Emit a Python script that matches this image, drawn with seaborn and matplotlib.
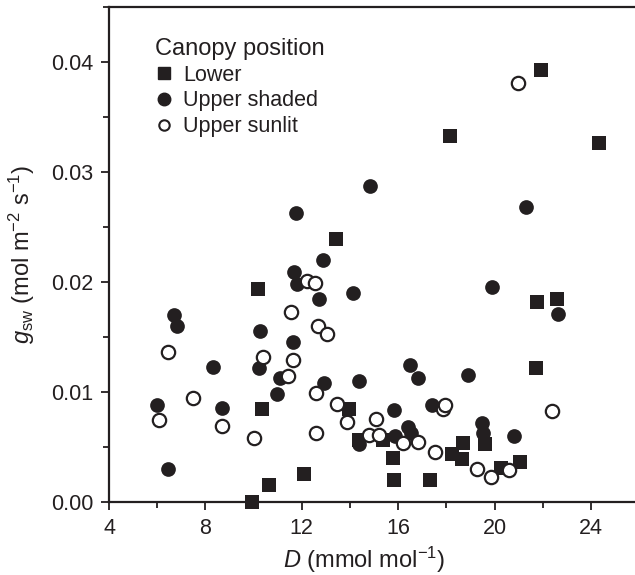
import matplotlib
matplotlib.use("Agg")
import matplotlib.pyplot as plt
import seaborn as sns
import pandas as pd
from matplotlib.ticker import MultipleLocator, FormatStrFormatter
from matplotlib.lines import Line2D

# ---- data ----
lower_D = [9.92, 10.64, 12.1, 10.33, 10.17, 13.42, 13.95, 14.39, 15.38, 15.80, 15.83, 17.32,
           18.25, 18.66, 18.70, 19.60, 20.26, 21.05, 18.17, 21.91, 24.33, 21.74, 22.57, 21.70]
lower_g = [0.0000, 0.0016, 0.0026, 0.0085, 0.0194, 0.0239, 0.0085, 0.0057, 0.0057, 0.0040, 0.0020, 0.0020,
           0.0044, 0.0039, 0.0054, 0.0053, 0.0031, 0.0037, 0.0333, 0.0393, 0.0326, 0.0182, 0.0185, 0.0122]

shaded_D = [6.00, 6.46, 6.70, 6.84, 8.33, 8.68, 10.24, 10.27, 10.96, 11.10, 11.62, 11.68, 11.76,
            11.80, 12.73, 12.87, 12.93, 14.11, 14.39, 14.39, 14.85, 15.84, 15.87, 16.39, 16.53,
            16.49, 16.81, 17.39, 18.91, 19.46, 19.53, 19.88, 20.82, 21.30, 22.64]
shaded_g = [0.0088, 0.0030, 0.0170, 0.0160, 0.0123, 0.0086, 0.0122, 0.0156, 0.0098, 0.0113, 0.0146, 0.0209, 0.0263,
            0.0198, 0.0185, 0.0220, 0.0108, 0.0190, 0.0110, 0.0053, 0.0287, 0.0084, 0.0060, 0.0068, 0.0063,
            0.0125, 0.0113, 0.0088, 0.0116, 0.0072, 0.0063, 0.0196, 0.0060, 0.0268, 0.0171]

sunlit_D = [6.06, 6.46, 7.47, 8.70, 10.03, 10.40, 11.42, 11.54, 11.62, 12.23, 12.55, 12.57, 12.58,
            12.69, 13.06, 13.47, 13.89, 14.80, 15.08, 15.22, 16.21, 16.83, 17.53, 17.87, 17.94,
            19.28, 19.86, 20.61, 20.98, 22.37]
sunlit_g = [0.0075, 0.0137, 0.0095, 0.0069, 0.0058, 0.0132, 0.0115, 0.0173, 0.0129, 0.0201, 0.0199, 0.0063, 0.0099,
            0.0160, 0.0153, 0.0089, 0.0073, 0.0061, 0.0076, 0.0061, 0.0054, 0.0055, 0.0046, 0.0085, 0.0088,
            0.0030, 0.0023, 0.0029, 0.0381, 0.0083]

groups = ["Lower", "Upper shaded", "Upper sunlit"]
x_ticks = [4, 8, 12, 16, 20, 24]
y_ticks = [0.00, 0.01, 0.02, 0.03, 0.04]

df = pd.concat([
    pd.DataFrame({"D": lower_D, "g": lower_g, "pos": groups[0]}),
    pd.DataFrame({"D": shaded_D, "g": shaded_g, "pos": groups[1]}),
    pd.DataFrame({"D": sunlit_D, "g": sunlit_g, "pos": groups[2]}),
])

sns.set_theme(style="ticks")
plt.rcParams["font.family"] = ["Liberation Sans", "DejaVu Sans"]
plt.rcParams["mathtext.fontset"] = "custom"
plt.rcParams["mathtext.rm"] = "Liberation Sans"
plt.rcParams["mathtext.it"] = "Liberation Sans:italic"
plt.rcParams["mathtext.default"] = "regular"

ink = "#231f20"
fig = plt.figure(figsize=(6.35, 5.75), dpi=100)
ax = fig.add_axes([109 / 635, 1 - 502.3 / 575, 1 - 109 / 635, (502.3 - 7) / 575])

styles = {
    "Lower": dict(marker="s", s=88, color=ink, edgecolor=ink, linewidth=0),
    "Upper shaded": dict(marker="o", s=112, color=ink, edgecolor=ink, linewidth=0),
    "Upper sunlit": dict(marker="o", s=92, color="white", edgecolor=ink, linewidth=1.6),
}
for gname in groups:
    sub = df[df["pos"] == gname]
    sns.scatterplot(data=sub, x="D", y="g", ax=ax, legend=False, zorder=3, clip_on=False,
                    **styles[gname])

ax.set_xlim(4, 4 + (635 - 109) / 24.1)
ax.set_ylim(0, 0.045)
ax.set_xticks(x_ticks)
ax.set_yticks(y_ticks)
ax.xaxis.set_minor_locator(MultipleLocator(2))
ax.yaxis.set_minor_locator(MultipleLocator(0.005))
ax.yaxis.set_major_formatter(FormatStrFormatter("%.2f"))
ax.tick_params(which="major", direction="out", length=6, width=1.3, colors=ink,
               labelsize=15.5, labelcolor=ink, pad=5)
ax.tick_params(which="minor", direction="out", length=4, width=1.3, colors=ink)
for side in ["left", "bottom", "top"]:
    ax.spines[side].set_linewidth(1.6)
    ax.spines[side].set_color(ink)
ax.spines["right"].set_visible(False)

ax.set_xlabel(r"$\mathit{D}$ (mmol mol$^{-1}$)", fontsize=17, color=ink)
ax.xaxis.set_label_coords((364 - 109) / (635 - 109), -0.085)
ax.set_ylabel(r"$\mathit{g}_{\mathrm{sw}}$ (mol m$^{-2}$ s$^{-1}$)", fontsize=17, color=ink, labelpad=10)

handles = [
    Line2D([], [], linestyle="none", marker="s", markersize=8.5, markerfacecolor=ink, markeredgecolor=ink),
    Line2D([], [], linestyle="none", marker="o", markersize=9, markerfacecolor=ink, markeredgecolor=ink),
    Line2D([], [], linestyle="none", marker="o", markersize=7.5, markerfacecolor="white",
           markeredgecolor=ink, markeredgewidth=1.5),
]
leg = ax.legend(handles, groups, title="Canopy position", loc="upper left",
                bbox_to_anchor=(46 / 526, 1 - 31 / 495), frameon=False, fontsize=15.5,
                title_fontsize=17, handlelength=0.8, handletextpad=0.5, labelspacing=0.22,
                borderpad=0, borderaxespad=0)
leg._legend_box.align = "left"
for t in leg.get_texts():
    t.set_color(ink)
leg.get_title().set_color(ink)

fig.savefig("out.png", dpi=100)
